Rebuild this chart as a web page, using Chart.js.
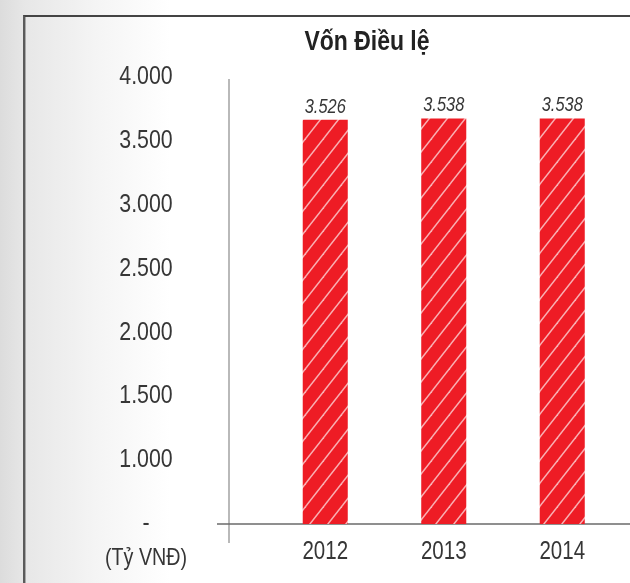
<!DOCTYPE html>
<html>
<head>
<meta charset="utf-8">
<script src="https://cdn.jsdelivr.net/npm/chart.js@4.4.1/dist/chart.umd.min.js"></script>
<style>
  html, body { margin: 0; padding: 0; }
  body {
    width: 630px; height: 583px; overflow: hidden; position: relative;
    background: linear-gradient(to right, #dcdcdc 0px, #e7e7e7 25px, #f5f5f5 100px, #ffffff 170px);
  }
  #frame {
    position: absolute; left: 23px; top: 15px; right: -10px; bottom: -10px;
    border-left: 2px solid #5a5a5a; border-top: 2px solid #444;
    box-shadow: inset 1px 0 0 #a8a8a8;
  }
  #wrap { position: absolute; left: 0; top: 0; width: 630px; height: 583px; }
</style>
</head>
<body>
<div id="frame"></div>
<div id="wrap"><canvas id="c" width="630" height="583"></canvas></div>
<script>
const categories = ['2012', '2013', '2014'];
const capitalValues = [3526, 3538, 3538];
const tickLabels = ['-', '1.000', '1.500', '2.000', '2.500', '3.000', '3.500', '4.000'];
const titleText = 'Vốn Điều lệ';
const unitText = '(Tỷ VNĐ)';

const FONT = "'Liberation Sans', Arial, sans-serif";
const TEXT = '#363636';
const NARROW = 0.82;

function fmt(v) {
  return String(v).replace(/\B(?=(\d{3})+(?!\d))/g, '.');
}

function hatchPattern() {
  const w = 18, h = 23;
  const c = document.createElement('canvas');
  c.width = w; c.height = h;
  const g = c.getContext('2d');
  g.fillStyle = '#ee1c25';
  g.fillRect(0, 0, w, h);
  g.strokeStyle = 'rgba(255,255,255,0.65)';
  g.lineWidth = 1.5;
  for (const k of [0, 1, 2]) {
    g.beginPath();
    g.moveTo(-w, k * h + h);
    g.lineTo(2 * w, k * h - 2 * h);
    g.stroke();
  }
  return g.createPattern(c, 'repeat');
}

// narrow text rendering (condensed look, like the reference's narrow typeface)
const narrowText = {
  id: 'narrowText',
  beforeInit(chart) {
    const ctx = chart.ctx;
    const orig = ctx.fillText.bind(ctx);
    ctx.fillText = function (text, x, y, maxWidth) {
      ctx.save();
      ctx.translate(x, y);
      ctx.scale(NARROW, 1);
      if (maxWidth !== undefined) orig(text, 0, 0, maxWidth / NARROW);
      else orig(text, 0, 0);
      ctx.restore();
    };
  }
};

const overlay = {
  id: 'overlay',
  beforeDatasetsDraw(chart) {
    const { ctx, chartArea } = chart;
    ctx.save();
    ctx.strokeStyle = '#8a8a8a';
    ctx.lineWidth = 1.2;
    ctx.beginPath();
    ctx.moveTo(chartArea.left - 37, chartArea.top + 2);
    ctx.lineTo(chartArea.left - 37, chartArea.bottom + 19);
    ctx.stroke();
    ctx.strokeStyle = '#6a6a6a';
    ctx.lineWidth = 1.5;
    ctx.beginPath();
    ctx.moveTo(chartArea.left - 49, chartArea.bottom);
    ctx.lineTo(chart.width, chartArea.bottom);
    ctx.stroke();
    ctx.restore();
  },
  afterDatasetsDraw(chart) {
    const { ctx, chartArea } = chart;
    const meta = chart.getDatasetMeta(0);
    ctx.save();
    ctx.fillStyle = TEXT;
    ctx.font = 'italic 20px ' + FONT;
    ctx.textAlign = 'center';
    ctx.textBaseline = 'alphabetic';
    meta.data.forEach((bar, i) => {
      ctx.fillText(fmt(chart.data.datasets[0].data[i]), bar.x, bar.y - 7);
    });
    ctx.font = '24px ' + FONT;
    ctx.textBaseline = 'middle';
    ctx.fillText(unitText, 146, chartArea.bottom + 34);
    ctx.restore();
  }
};

new Chart(document.getElementById('c'), {
  type: 'bar',
  data: {
    labels: categories,
    datasets: [{
      data: capitalValues,
      backgroundColor: hatchPattern(),
      borderWidth: 0,
      categoryPercentage: 1,
      barPercentage: 0.38,
      yAxisID: 'y'
    }]
  },
  options: {
    responsive: false,
    animation: false,
    devicePixelRatio: 1,
    layout: { padding: { left: 112.5, right: 8.5, top: 5, bottom: 3 } },
    plugins: {
      legend: { display: false },
      tooltip: { enabled: false },
      title: {
        display: true,
        text: titleText,
        color: '#222',
        font: { family: FONT, size: 28, weight: 'bold' },
        padding: { top: 20.2, bottom: 18.2 }
      }
    },
    scales: {
      x: {
        type: 'category',
        offset: true,
        grid: { display: false, drawTicks: false },
        border: { display: false },
        ticks: { color: TEXT, font: { family: FONT, size: 25 }, padding: 13, maxRotation: 0 }
      },
      y: {
        type: 'linear',
        display: false,
        min: 0,
        max: 3900
      },
      yt: {
        type: 'category',
        axis: 'y',
        position: 'left',
        offset: false,
        labels: [...tickLabels].reverse(),
        grid: { display: false, drawTicks: false },
        border: { display: false },
        ticks: { color: TEXT, font: { family: FONT, size: 26 }, autoSkip: false, crossAlign: 'center', padding: 87.5 },
        afterFit(scale) { scale.width = 153.5; scale.paddingTop = 0; scale.paddingBottom = 0; }
      }
    }
  },
  plugins: [narrowText, overlay]
});
</script>
</body>
</html>
